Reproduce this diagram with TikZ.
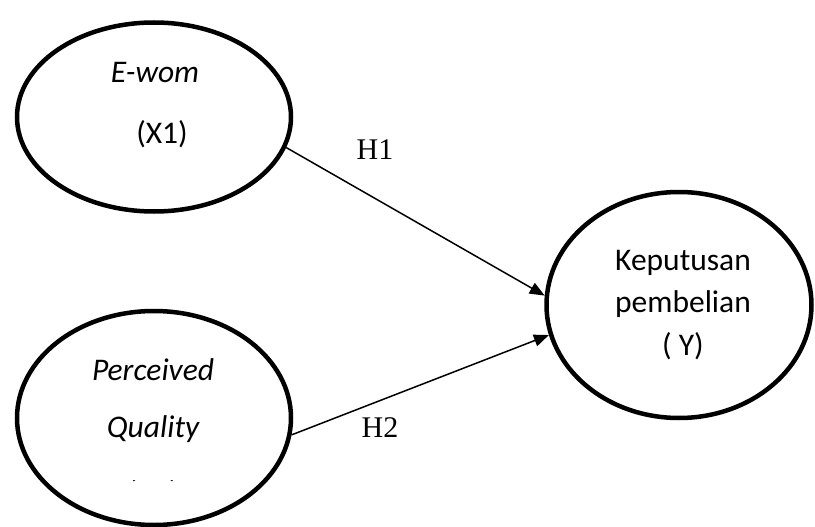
\documentclass[tikz,border=0pt]{standalone}
\usepackage{fontspec}
\setmainfont{Liberation Serif}
\newfontfamily\calibri{Carlito}
\usetikzlibrary{arrows.meta, shapes.geometric}

\begin{document}
\begin{tikzpicture}[x=1pt, y=-1pt, >={Triangle[length=15pt,width=12pt]}]
    \tikzstyle{latent}=[ellipse, draw=black, line width=4.5pt, inner sep=0pt]
    \tikzstyle{latent text}=[anchor=base, inner sep=0pt, font=\calibri\fontsize{31.5}{36}\selectfont]
    \tikzstyle{hypo label}=[anchor=base, inner sep=0pt, font=\fontsize{30}{36}\selectfont]
    \tikzstyle{hypo edge}=[->, line width=1.5pt]

    \useasboundingbox (0,0) rectangle (815,527);

    \node[latent, minimum width=274pt, minimum height=189pt] (X1) at (154,117) {};
    \node[latent, minimum width=274pt, minimum height=214pt] (X2) at (154,418) {};
    \node[latent, minimum width=265pt, minimum height=226pt] (Y) at (679,305) {};

    \node[latent text] (X1-name) at (155,83) {\itshape E-wom};
    \node[latent text] (X1-code) at (162,143) {(X1)};
    \node[latent text] (X2-name) at (153,380) {\itshape Perceived};
    \node[latent text] (X2-qual) at (153,437) {\itshape Quality};
    \begin{scope}
        \clip (100,480.5) rectangle (210,484);
        \node[latent text] (X2-code) at (153,477) {(X2)};
    \end{scope}
    \node[latent text] (Y-name) at (683,270) {Keputusan};
    \node[latent text] (Y-name2) at (683,312) {pembelian};
    \node[latent text] (Y-code) at (683,355) {( Y)};

    \draw[hypo edge] (X1.347.6) -- (Y.176.6);
    \draw[hypo edge] (X2.353.8) -- (Y.193.5);

    \node[hypo label] (H1) at (375,160) {H1};
    \node[hypo label] (H2) at (380,437) {H2};
\end{tikzpicture}
\end{document}
